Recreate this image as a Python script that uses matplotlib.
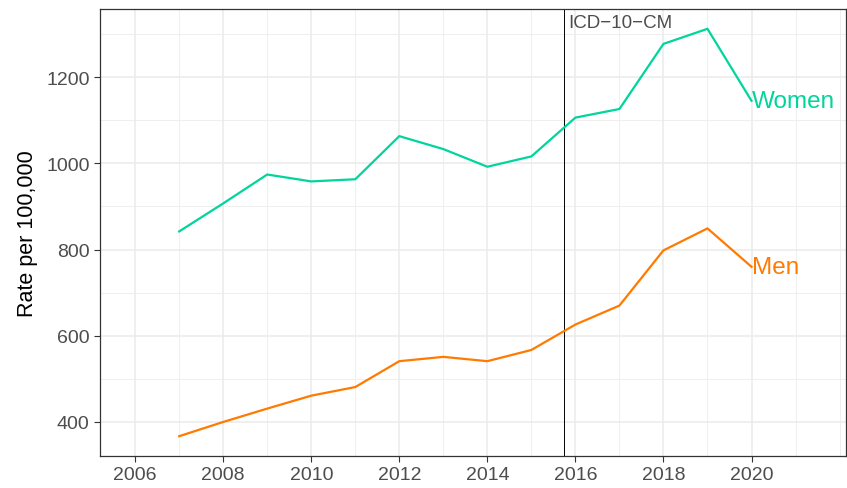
import matplotlib.pyplot as plt
from matplotlib.ticker import MultipleLocator, FixedLocator

plt.rcParams["font.family"] = ["Liberation Sans", "DejaVu Sans"]

years = [2007, 2008, 2009, 2010, 2011, 2012, 2013, 2014, 2015, 2016, 2017, 2018, 2019, 2020]
women = [842, 907, 974, 958, 963, 1063, 1033, 992, 1016, 1106, 1126, 1277, 1312, 1145]
men = [367, 400, 431, 461, 481, 541, 551, 541, 567, 626, 670, 798, 849, 760]
series_names = ["Women", "Men"]
series_colors = ["#00D59B", "#FF7A00"]
x_ticks = [2006, 2008, 2010, 2012, 2014, 2016, 2018, 2020]
icd_year = 2015.75
icd_label = "ICD\u221210\u2212CM"

fig = plt.figure(figsize=(8.47, 4.89), dpi=100)
ax = fig.add_axes([0.118, 0.0654, 0.881, 0.9142])

for vals, name, col in zip([women, men], series_names, series_colors):
    ax.plot(years, vals, color=col, lw=1.6, zorder=3)
    ax.text(years[-1], vals[-1], name, color=col, fontsize=17.5,
            ha="left", va="center", zorder=4)

ax.axvline(icd_year, color="black", lw=0.7, zorder=2)

ax.set_xlim(2005.2, 2022.15)
ax.set_ylim(321, 1358)
ax.text(icd_year + 0.08, 1346, icd_label, color="#4D4D4D", fontsize=13.5,
        ha="left", va="top")

ax.xaxis.set_major_locator(FixedLocator(x_ticks))
ax.xaxis.set_minor_locator(MultipleLocator(1))
ax.yaxis.set_major_locator(MultipleLocator(200))
ax.yaxis.set_minor_locator(MultipleLocator(100))
ax.grid(which="major", color="#EBEBEB", lw=1.1, zorder=0)
ax.grid(which="minor", color="#EBEBEB", lw=0.55, zorder=0)
ax.set_axisbelow(True)
ax.tick_params(which="minor", length=0)
ax.tick_params(which="major", length=4, color="#333333", labelsize=14,
               labelcolor="#4D4D4D", width=0.8)
for s in ax.spines.values():
    s.set_color("#333333")
    s.set_linewidth(0.9)

ax.set_ylabel("Rate per 100,000", fontsize=15.5, color="black", labelpad=6)

fig.savefig("out.png", dpi=100)
